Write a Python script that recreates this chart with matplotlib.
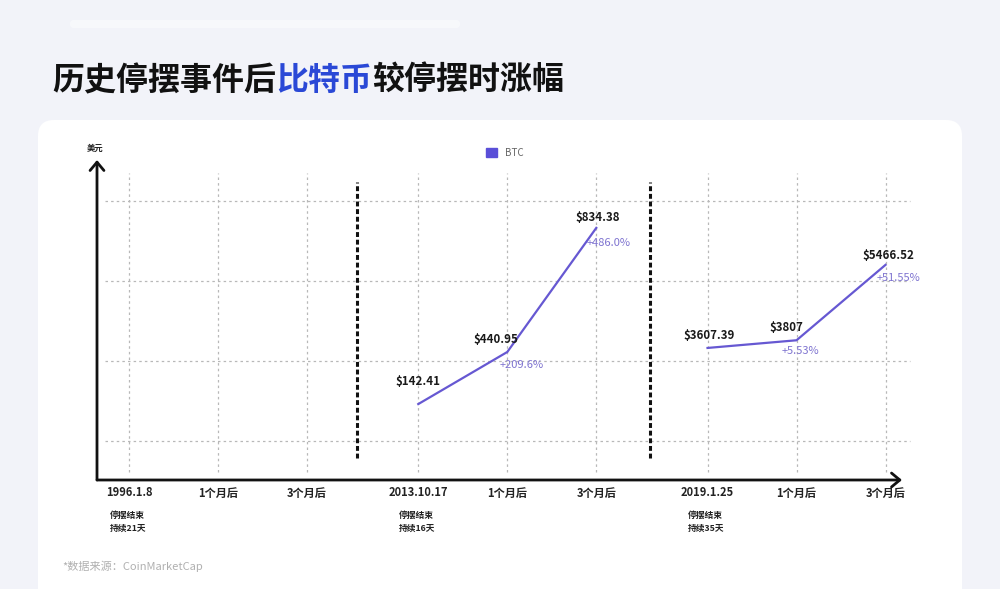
import numpy as np
import matplotlib.pyplot as plt
from matplotlib.patches import FancyBboxPatch, Patch
from matplotlib.transforms import IdentityTransform

plt.rcParams['font.family'] = ['Noto Sans CJK SC', 'DejaVu Sans']

# ---- data ----
x_labels = ['1996.1.8', '1个月后', '3个月后',
            '2013.10.17', '1个月后', '3个月后',
            '2019.1.25', '1个月后', '3个月后']
event_notes = [('停摆结束', '持续21天'), ('停摆结束', '持续16天'), ('停摆结束', '持续35天')]
btc_2013 = [142.41, 440.95, 834.38]
btc_2019 = [3607.39, 3807, 5466.52]
price_2013 = ['$142.41', '$440.95', '$834.38']
price_2019 = ['$3607.39', '$3807', '$5466.52']
pct_2013 = ['+209.6%', '+486.0%']
pct_2019 = ['+5.53%', '+51.55%']

LINE = '#6658d2'
PCT = '#7e73d0'
BG = '#f2f3f9'

# x slots (three groups of three)
xpos = [0, 1, 2, 3.25, 4.25, 5.25, 6.5, 7.5, 8.5]

fig = plt.figure(figsize=(10, 5.89), dpi=100, facecolor=BG)

# white card behind everything
card = FancyBboxPatch((38, -30), 924, 499, boxstyle='round,pad=0,rounding_size=16',
                      transform=IdentityTransform(), facecolor='white', edgecolor='none', zorder=-10)
fig.add_artist(card)
band = FancyBboxPatch((70, 561), 390, 8, boxstyle='round,pad=0,rounding_size=4',
                      transform=IdentityTransform(), facecolor='white', edgecolor='none',
                      alpha=0.45, zorder=-10)
fig.add_artist(band)

# main axes in "pixel" units: 805 x 320 px
ax = fig.add_axes([0.097, 109 / 589, 0.805, 320 / 589])
ax.set_xlim(-0.36, 8.685)
ax.set_ylim(0, 320)
ax.axis('off')

grid_kw = dict(color='#b8b8b8', lw=0.9, ls=(0, (2, 2.5)), clip_on=False, zorder=1)
for h in [39, 119, 199, 279]:
    ax.plot([-0.27, 8.78], [h, h], **grid_kw)
for x in xpos:
    ax.plot([x, x], [8, 307], **grid_kw)
for x in [2.56, 5.85]:
    ax.plot([x, x], [22, 298], color='#111111', lw=2.2, ls=(0, (1.6, 0.9)), zorder=2)

arrow = dict(arrowstyle='->,head_length=0.6,head_width=0.5', lw=2, color='#111111',
             shrinkA=0, shrinkB=0)
ax.annotate('', xy=(0, 1), xytext=(0, 0), xycoords='axes fraction', arrowprops=arrow)
ax.annotate('', xy=(1, 0), xytext=(0, 0), xycoords='axes fraction', arrowprops=arrow)

# bottom labels
for x, lab in zip(xpos, x_labels):
    ax.text(x, -13, lab, ha='center', va='center', fontsize=8, fontweight='bold', color='#222222')
for x, (n1, n2) in zip(xpos[0::3], event_notes):
    ax.text(x - 0.22, -35, n1, ha='left', va='center', fontsize=6.3, fontweight='bold', color='#222222')
    ax.text(x - 0.22, -48, n2, ha='left', va='center', fontsize=6.3, fontweight='bold', color='#222222')


# illustrative (non-linear) value scale, one twin axis per period
def fwd(v):
    return np.sign(v) * np.abs(v) ** 1.75


def inv(v):
    return np.sign(v) * np.abs(v) ** (1 / 1.75)


def draw_group(xs, vals, prices, pcts, ylim, price_off, pct_off):
    t = ax.twinx()
    t.set_yscale('function', functions=(fwd, inv))
    t.set_ylim(*ylim)
    t.axis('off')
    t.plot(xs, vals, color=LINE, lw=1.6, solid_joinstyle='miter', zorder=3)
    for x, v, s, off in zip(xs, vals, prices, price_off):
        t.annotate(s, (x, v), xytext=off, textcoords='offset pixels', ha='center', va='center',
                   fontsize=8.3, fontweight='bold', color='#1a1a1a')
    for x, v, s, off in zip(xs[1:], vals[1:], pcts, pct_off):
        t.annotate(s, (x, v), xytext=off, textcoords='offset pixels', ha='center', va='center',
                   fontsize=8, color=PCT)


draw_group(xpos[3:6], btc_2013, price_2013, pct_2013, (-470, 998),
           [(0, 23), (-11, 12), (1, 10)], [(14, -13), (12, -15)])
draw_group(xpos[6:9], btc_2019, price_2019, pct_2019, (-2942, 7283),
           [(2, 12), (-10, 13), (3, 9)], [(4, -11), (13, -13)])

# title
t1 = fig.text(52 / 1000, 1 - 81 / 589, '历史停摆事件后', fontsize=23, fontweight='bold',
              color='#111111', ha='left', va='center')
t2 = ax.annotate('比特币', xy=(1, 0), xycoords=t1, ha='left', va='bottom',
                 fontsize=23, fontweight='bold', color='#2a48d6', annotation_clip=False)
ax.annotate('较停摆时涨幅', xy=(1, 0), xycoords=t2, ha='left', va='bottom',
            fontsize=23, fontweight='bold', color='#111111', annotation_clip=False)

fig.text(95 / 1000, 1 - 148 / 589, '美元', ha='center', va='center', fontsize=6, fontweight='bold',
         color='#222222')
fig.legend(handles=[Patch(color='#5a4fd8', label='BTC')], loc='center',
           bbox_to_anchor=(505 / 1000, 1 - 153 / 589), frameon=False, fontsize=7,
           handlelength=1.1, handleheight=1.1, handletextpad=0.8, labelcolor='#666666')
fig.text(62 / 1000, 1 - 566 / 589, '*数据来源：CoinMarketCap', ha='left', va='center',
         fontsize=8, color='#b0b0b0')

fig.savefig('out.png', dpi=100, facecolor=BG)
